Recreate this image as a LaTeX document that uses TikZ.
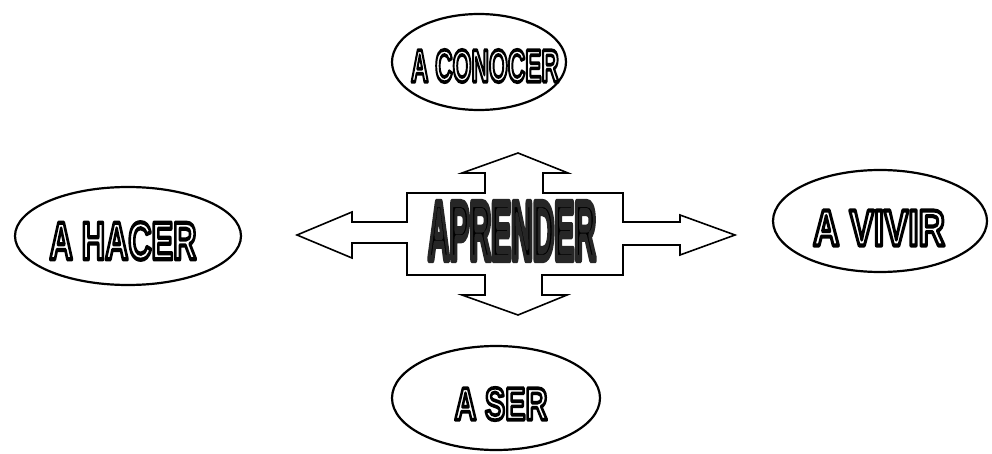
\documentclass[tikz,border=0pt]{standalone}
\usepackage{fontspec}
\setmainfont{Liberation Sans}
\usetikzlibrary{shapes.geometric}
\newcommand{\otext}[3]{\resizebox{#1}{#2}{\special{pdf:literal direct 1 g 0 G 2 Tr 0.8 w 1 j}\bfseries #3\special{pdf:literal direct 0 g 0 G 0 Tr 0.4 w 0 j}}}
\newcommand{\heavytext}[3]{\resizebox{#1}{#2}{\special{pdf:literal direct 0 g 0.15 G 2 Tr 1.0 w 1 j}\bfseries #3\special{pdf:literal direct 0 g 0 G 0 Tr 0.4 w 0 j}}}
\tikzset{
  oval/.style={ellipse, draw=black, line width=2.2pt, inner sep=0pt},
  crossline/.style={draw=black, line width=1.6pt, line join=miter, fill=white},
}
\begin{document}
\begin{tikzpicture}[x=1pt,y=-1pt]
\useasboundingbox (0,0) rectangle (992,454);
% ellipses
\node[oval, minimum width=174pt, minimum height=96pt] (conocer) at (479,62) {};
\node at (485,66) {\otext{148pt}{32pt}{A CONOCER}};
\node[oval, minimum width=226pt, minimum height=98pt] (hacer) at (128,236) {};
\node at (123,241) {\otext{147pt}{37pt}{A HACER}};
\node[oval, minimum width=214pt, minimum height=102pt] (vivir) at (880,221) {};
\node at (879,228) {\otext{132pt}{35pt}{A VIVIR}};
\node[oval, minimum width=208pt, minimum height=104pt] (ser) at (496,398) {};
\node at (501,404) {\otext{93pt}{32pt}{A SER}};
% central cross
\draw[crossline] (297,235) -- (352,212) -- (352,222) -- (407,222) -- (407,193)
  -- (485,193) -- (485,173) -- (462,173) -- (518,153) -- (568,173) -- (543,173)
  -- (543,193) -- (623,193) -- (623,222) -- (680,222) -- (680,215) -- (735,235)
  -- (680,255) -- (680,245) -- (623,245) -- (623,275) -- (542,275) -- (542,295)
  -- (567,295) -- (518,315) -- (462,295) -- (485,295) -- (485,275) -- (407,275)
  -- (407,243) -- (352,243) -- (352,258) -- cycle;
\node (aprender) at (512,231) {\heavytext{168pt}{56pt}{APRENDER}};
\end{tikzpicture}
\end{document}
